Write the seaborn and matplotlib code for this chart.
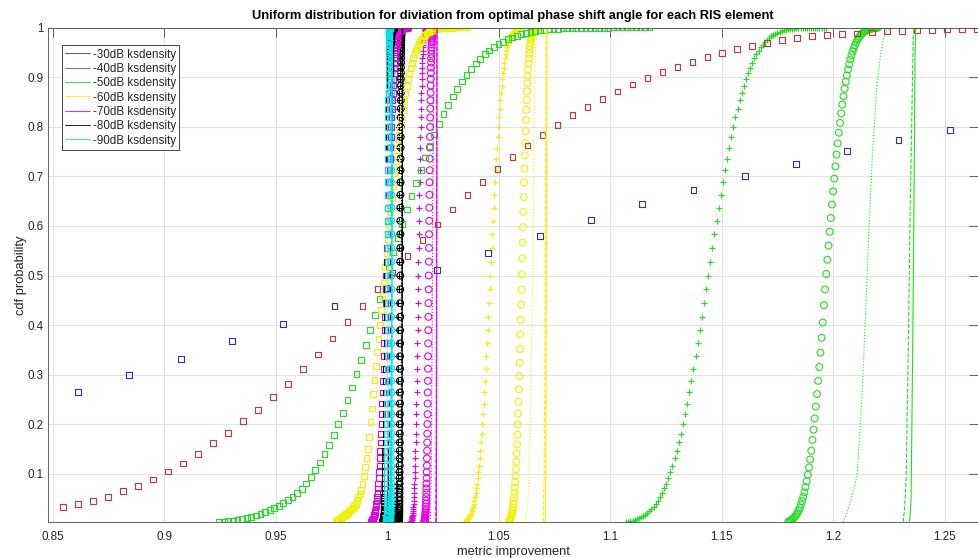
import numpy as np
import pandas as pd
import matplotlib
matplotlib.use("Agg")
import matplotlib.pyplot as plt
from matplotlib.lines import Line2D
import seaborn as sns

sns.set_theme(style="white")
plt.rcParams['font.family'] = ['Liberation Sans', 'DejaVu Sans']

title = "Uniform distribution for diviation from optimal phase shift angle for each RIS element"
legend_labels = ["-30dB ksdensity", "-40dB ksdensity", "-50dB ksdensity", "-60dB ksdensity",
                 "-70dB ksdensity", "-80dB ksdensity", "-90dB ksdensity"]
levels = ["-30", "-40", "-50", "-60", "-70", "-80", "-90"]
colors = {"-30": "#2f2fb8", "-40": "#cc3333", "-50": "#22dd22", "-60": "#f2f200",
          "-70": "#e600e6", "-80": "#000000", "-90": "#00e0ea"}
x_ticks = [0.85, 0.9, 0.95, 1.0, 1.05, 1.1, 1.15, 1.2, 1.25]
x_tick_labels = ["0.85", "0.9", "0.95", "1", "1.05", "1.1", "1.15", "1.2", "1.25"]
y_ticks = [0.1, 0.2, 0.3, 0.4, 0.5, 0.6, 0.7, 0.8, 0.9, 1.0]
y_tick_labels = ["0.1", "0.2", "0.3", "0.4", "0.5", "0.6", "0.7", "0.8", "0.9", "1"]
x_limits = (0.8478, 1.2650)
y_limits = (0.0032, 1.0)

# ---- -30 dB and -40 dB square-marker cdf (visible part only) ----
blue_sq_x = (0.86130, 1.25237)
blue_sq_y = [0.265, 0.299, 0.332, 0.368, 0.403, 0.438, 0.475, 0.511, 0.545, 0.580,
             0.612, 0.644, 0.673, 0.700, 0.725, 0.751, 0.773, 0.793]
red_sq_x = (0.85439, 1.26469)
red_sq_y = [0.033, 0.039, 0.045, 0.054, 0.065, 0.076, 0.089, 0.105, 0.121, 0.141,
            0.162, 0.183, 0.206, 0.229, 0.256, 0.282, 0.311, 0.341, 0.373, 0.406,
            0.438, 0.473, 0.506, 0.540, 0.572, 0.603, 0.633, 0.662, 0.689, 0.715,
            0.739, 0.762, 0.783, 0.803, 0.823, 0.840, 0.856, 0.871, 0.885, 0.898,
            0.910, 0.921, 0.931, 0.940, 0.949, 0.956, 0.963, 0.969, 0.975, 0.978,
            0.983, 0.985, 0.987, 0.988, 0.990, 0.993, 0.993, 0.994, 0.995, 0.996,
            0.996, 0.997]

# ---- -50 dB square / circle, -60 dB square / circle cdf (100-point ksdensity grids) ----
green_sq_x = (0.91435, 1.11767)
green_sq_y = [0.0008, 0.0011, 0.0015, 0.0020, 0.0026, 0.0033, 0.0041, 0.0051, 0.0063, 0.0077,
              0.0094, 0.0113, 0.0136, 0.0162, 0.0192, 0.0227, 0.0266, 0.0310, 0.0360, 0.0415,
              0.0476, 0.0543, 0.0616, 0.0700, 0.0808, 0.0934, 0.1075, 0.1230, 0.1401, 0.1587,
              0.1788, 0.2005, 0.2236, 0.2483, 0.2743, 0.3015, 0.3300, 0.3594, 0.3897, 0.4207,
              0.4522, 0.4860, 0.5168, 0.5466, 0.5753, 0.6045, 0.6331, 0.6609, 0.6872, 0.7133,
              0.7380, 0.7617, 0.7844, 0.8051, 0.8251, 0.8437, 0.8610, 0.8768, 0.8912, 0.9045,
              0.9166, 0.9274, 0.9372, 0.9458, 0.9535, 0.9603, 0.9663, 0.9715, 0.9760, 0.9799,
              0.9833, 0.9862, 0.9886, 0.9906, 0.9923, 0.9938, 0.9950, 0.9960, 0.9968, 0.9974,
              0.9980, 0.9984, 0.9987, 0.9990, 0.9992, 0.9994, 0.9995, 0.9996, 0.9997, 0.9998,
              0.9998, 0.9999, 0.9999, 0.9999, 0.9999, 1.0, 1.0, 1.0, 1.0, 1.0]
green_o_x = (1.16906, 1.22011)
green_o_y = [0.0000, 0.0000, 0.0000, 0.0000, 0.0000, 0.0000, 0.0001, 0.0001, 0.0001, 0.0001,
             0.0002, 0.0003, 0.0003, 0.0005, 0.0006, 0.0008, 0.0011, 0.0014, 0.0018, 0.0023,
             0.0030, 0.0038, 0.0049, 0.0062, 0.0078, 0.0096, 0.0119, 0.0146, 0.0179, 0.0217,
             0.0262, 0.0314, 0.0384, 0.0455, 0.0537, 0.0630, 0.0735, 0.0853, 0.0985, 0.1131,
             0.1292, 0.1469, 0.1685, 0.1894, 0.2119, 0.2358, 0.2611, 0.2877, 0.3156, 0.3446,
             0.3745, 0.4052, 0.4404, 0.4721, 0.5032, 0.5319, 0.5604, 0.5882, 0.6160, 0.6432,
             0.6697, 0.6953, 0.7201, 0.7438, 0.7664, 0.7879, 0.8078, 0.8269, 0.8447, 0.8613,
             0.8766, 0.8906, 0.9035, 0.9153, 0.9259, 0.9355, 0.9440, 0.9516, 0.9585, 0.9645,
             0.9697, 0.9744, 0.9784, 0.9818, 0.9848, 0.9874, 0.9895, 0.9913, 0.9929, 0.9942,
             0.9953, 0.9962, 0.9969, 0.9975, 0.9980, 0.9984, 0.9988, 0.9990, 0.9992, 0.9994]
yellow_sq_x = (0.97623, 1.03572)
yellow_sq_y = [0.0030, 0.0047, 0.0064, 0.0080, 0.0097, 0.0115, 0.0135, 0.0155, 0.0175, 0.0196,
               0.0218, 0.0243, 0.0268, 0.0294, 0.0321, 0.0347, 0.0395, 0.0460, 0.0530, 0.0600,
               0.0685, 0.0805, 0.0960, 0.1140, 0.1330, 0.1510, 0.1750, 0.2040, 0.2320, 0.2620,
               0.2900, 0.3180, 0.3460, 0.3720, 0.4010, 0.4300, 0.4580, 0.4860, 0.5174, 0.5457,
               0.5739, 0.6016, 0.6288, 0.6554, 0.6813, 0.7063, 0.7304, 0.7534, 0.7753, 0.7961,
               0.8157, 0.8341, 0.8512, 0.8671, 0.8818, 0.8953, 0.9077, 0.9190, 0.9291, 0.9383,
               0.9465, 0.9538, 0.9603, 0.9660, 0.9711, 0.9755, 0.9793, 0.9826, 0.9854, 0.9879,
               0.9900, 0.9917, 0.9932, 0.9944, 0.9955, 0.9963, 0.9970, 0.9976, 0.9981, 0.9985,
               0.9988, 0.9990, 0.9992, 0.9994, 0.9995, 0.9996, 0.9997, 0.9997, 0.9998, 0.9998,
               0.9999, 0.9999, 0.9999, 0.9999, 0.9999, 1.0, 1.0, 1.0, 1.0, 1.0]
yellow_o_x = (1.05224, 1.06867)
yellow_o_y = [0.0001, 0.0001, 0.0001, 0.0002, 0.0003, 0.0004, 0.0005, 0.0006, 0.0008, 0.0010,
              0.0013, 0.0017, 0.0022, 0.0028, 0.0036, 0.0045, 0.0056, 0.0069, 0.0086, 0.0106,
              0.0129, 0.0157, 0.0190, 0.0229, 0.0274, 0.0326, 0.0386, 0.0455, 0.0534, 0.0623,
              0.0723, 0.0835, 0.0960, 0.1097, 0.1249, 0.1416, 0.1596, 0.1790, 0.1999, 0.2221,
              0.2457, 0.2706, 0.2967, 0.3238, 0.3520, 0.3810, 0.4110, 0.4412, 0.4717, 0.5024,
              0.5347, 0.5663, 0.5975, 0.6285, 0.6584, 0.6876, 0.7153, 0.7422, 0.7673, 0.7910,
              0.8135, 0.8342, 0.8536, 0.8712, 0.8872, 0.9020, 0.9151, 0.9270, 0.9375, 0.9467,
              0.9550, 0.9620, 0.9683, 0.9736, 0.9781, 0.9820, 0.9853, 0.9880, 0.9903, 0.9922,
              0.9938, 0.9950, 0.9961, 0.9969, 0.9976, 0.9981, 0.9986, 0.9989, 0.9992, 0.9994,
              0.9995, 0.9996, 0.9997, 0.9998, 0.9998, 0.9999, 0.9999, 0.9999, 1.0, 1.0]

# ---- shared ksdensity cdf shape for the narrow columns (estimate, 110 grid values) ----
ks_cdf_grid = [0.0001, 0.0002, 0.0002, 0.0003, 0.0004, 0.0005, 0.0006, 0.0008, 0.0010, 0.0013,
               0.0016, 0.0021, 0.0026, 0.0032, 0.0039, 0.0048, 0.0059, 0.0071, 0.0087, 0.0104,
               0.0125, 0.0150, 0.0179, 0.0212, 0.0250, 0.0294, 0.0344, 0.0401, 0.0465, 0.0537,
               0.0618, 0.0708, 0.0808, 0.0918, 0.1038, 0.1170, 0.1314, 0.1469, 0.1635, 0.1814,
               0.2005, 0.2206, 0.2420, 0.2643, 0.2877, 0.3121, 0.3372, 0.3632, 0.3897, 0.4168,
               0.4443, 0.4721, 0.5000, 0.5279, 0.5557, 0.5832, 0.6103, 0.6368, 0.6628, 0.6879,
               0.7123, 0.7357, 0.7580, 0.7794, 0.7995, 0.8186, 0.8365, 0.8531, 0.8686, 0.8830,
               0.8962, 0.9082, 0.9192, 0.9292, 0.9382, 0.9463, 0.9535, 0.9599, 0.9656, 0.9706,
               0.9750, 0.9788, 0.9821, 0.9850, 0.9875, 0.9896, 0.9913, 0.9929, 0.9941, 0.9952,
               0.9961, 0.9968, 0.9974, 0.9979, 0.9984, 0.9987, 0.9990, 0.9992, 0.9994, 0.9995,
               0.9996, 0.9997, 0.9998, 0.9998, 0.9999, 0.9999, 0.9999, 1.0, 1.0, 1.0]

# marker series: (dB, marker, x_start, x_end, y values)
marker_series = [
    ("-50", "o", green_o_x[0], green_o_x[1], green_o_y),
    ("-60", "o", yellow_o_x[0], yellow_o_x[1], yellow_o_y),
    ("-70", "o", 1.01630, 1.02126, ks_cdf_grid[6:106]),
    ("-80", "o", 1.00506, 1.00661, ks_cdf_grid[3:103]),
    ("-90", "o", 1.00157, 1.00204, ks_cdf_grid[5:105]),
    ("-50", "+", 1.10345, 1.19668, ks_cdf_grid[9:109]),
    ("-60", "+", 1.03067, 1.06022, ks_cdf_grid[0:100]),
    ("-70", "+", 1.00982, 1.01825, ks_cdf_grid[4:104]),
    ("-80", "+", 1.00389, 1.00637, ks_cdf_grid[5:105]),
    ("-90", "+", 1.00095, 1.00172, ks_cdf_grid[1:101]),
    ("-40", "s", red_sq_x[0], red_sq_x[1], red_sq_y),
    ("-30", "s", blue_sq_x[0], blue_sq_x[1], blue_sq_y),
    ("-50", "s", green_sq_x[0], green_sq_x[1], green_sq_y),
    ("-60", "s", yellow_sq_x[0], yellow_sq_x[1], yellow_sq_y),
    ("-70", "s", 0.99148, 1.00924, ks_cdf_grid[7:107]),
    ("-80", "s", 0.99752, 1.00311, ks_cdf_grid[8:108]),
    ("-90", "s", 0.99938, 1.00124, ks_cdf_grid[7:107]),
]

# line series: (dB, linestyle, x values, y values)
line_series = [
    ("-50", "-", [1.23430, 1.23498, 1.23556, 1.23601, 1.23646, 1.23677, 1.23704],
     [0.003, 0.05, 0.29, 0.5, 0.75, 0.95, 1.0]),
    ("-60", "-", [1.07085, 1.07112, 1.07130, 1.07148, 1.07166], [0.003, 0.1, 0.4, 0.8, 1.0]),
    ("-70", "-", [1.02197, 1.02215, 1.02233], [0.003, 0.3, 1.0]),
    ("-80", "-", [1.00659, 1.00673, 1.00686], [0.003, 0.5, 1.0]),
    ("-90", "-", [1.00202, 1.00211, 1.00220], [0.003, 0.5, 1.0]),
    ("-50", "--", [1.23139, 1.23206, 1.23274, 1.23350, 1.23408, 1.23453, 1.23529, 1.23574, 1.23601, 1.23655],
     [0.003, 0.03, 0.088, 0.29, 0.47, 0.619, 0.813, 0.93, 0.99, 1.0]),
    ("-60", "--", [1.06996, 1.07040, 1.07063, 1.07099, 1.07121, 1.07139], [0.003, 0.1, 0.29, 0.6, 0.9, 1.0]),
    ("-70", "--", [1.02175, 1.02197, 1.02211, 1.02224], [0.003, 0.2, 0.6, 1.0]),
    ("-80", "--", [1.00650, 1.00664, 1.00677], [0.003, 0.5, 1.0]),
    ("-90", "--", [1.00197, 1.00206, 1.00215], [0.003, 0.5, 1.0]),
    ("-50", ":", [1.20448, 1.20614, 1.20839, 1.21063, 1.21211, 1.21332, 1.21480, 1.21614, 1.21771,
                  1.21960, 1.22108, 1.22242, 1.22408, 1.22646],
     [0.003, 0.02, 0.054, 0.094, 0.189, 0.289, 0.45, 0.60, 0.75, 0.881, 0.94, 0.975, 0.995, 1.0]),
    ("-60", ":", [1.06188, 1.06323, 1.06390, 1.06435, 1.06502, 1.06561, 1.06592, 1.06619, 1.06704],
     [0.003, 0.05, 0.15, 0.25, 0.45, 0.62, 0.8, 0.93, 0.997]),
    ("-70", ":", [1.01928, 1.01973, 1.02018, 1.02049, 1.02076, 1.02108], [0.003, 0.1, 0.4, 0.7, 0.95, 1.0]),
    ("-80", ":", [1.00619, 1.00637, 1.00655], [0.003, 0.5, 1.0]),
    ("-90", ":", [1.00179, 1.00193, 1.00206], [0.003, 0.5, 1.0]),
]

fig = plt.figure(figsize=(9.79, 5.58), dpi=100)
ax = fig.add_axes([48 / 979, 36 / 558, 930 / 979, 494.5 / 558])

for db, ls, xs, ys in line_series:
    sns.lineplot(x=xs, y=ys, ax=ax, color=colors[db], linestyle=ls, linewidth=0.8,
                 sort=False, estimator=None, legend=False)

msize = {"o": 4.9, "+": 4.6, "s": 4.2}
for db, mk, x0, x1, ys in marker_series:
    ys = np.asarray(ys, dtype=float)
    xs = np.linspace(x0, x1, len(ys))
    keep = ys >= y_limits[0]          # points outside the y-limits are not drawn
    xs, ys = xs[keep], ys[keep]
    c = colors[db]
    if mk == "+":
        sns.scatterplot(x=xs, y=ys, ax=ax, marker="+", s=msize[mk] ** 2, color=c,
                        linewidth=0.8, legend=False)
    else:
        sns.scatterplot(x=xs, y=ys, ax=ax, marker=mk, s=msize[mk] ** 2, color=c,
                        facecolor="none", edgecolor=c, linewidth=0.8, legend=False)

ax.set_xlim(*x_limits)
ax.set_ylim(*y_limits)
ax.set_xticks(x_ticks)
ax.set_xticklabels(x_tick_labels)
ax.set_yticks(y_ticks)
ax.set_yticklabels(y_tick_labels)
ax.grid(True, color="#e2e2e2", linewidth=0.8)
ax.set_axisbelow(True)
ax.tick_params(direction="in", length=6.5, width=0.6, color="#4a4a4a", top=True, right=True,
               labelsize=8.4, labelcolor="#262626")
ax.tick_params(axis="x", pad=6.3)
ax.tick_params(axis="y", pad=3)
for sp in ax.spines.values():
    sp.set_color("#4a4a4a")
    sp.set_linewidth(0.6)

ax.set_title(title, fontsize=9.3, fontweight="bold", pad=6, color="#000000")
ax.set_xlabel("metric improvement", fontsize=9.3, color="#262626")
ax.xaxis.set_label_coords(0.5, -0.049)
ax.set_ylabel("cdf probability", fontsize=9.3, color="#262626")
ax.yaxis.set_label_coords(-0.0225, 0.5)

handles = [Line2D([0], [0], color=colors[k], linewidth=0.6) for k in levels]
leg = ax.legend(handles, legend_labels, loc="upper left", bbox_to_anchor=(0.0147, 0.9646),
                borderaxespad=0, fontsize=8.4, frameon=True, fancybox=False, framealpha=1,
                edgecolor="#262626", labelspacing=0.2, handlelength=2.15, handletextpad=0.2,
                borderpad=0.3)
leg.get_frame().set_linewidth(0.6)

fig.savefig("out.png", dpi=100)
